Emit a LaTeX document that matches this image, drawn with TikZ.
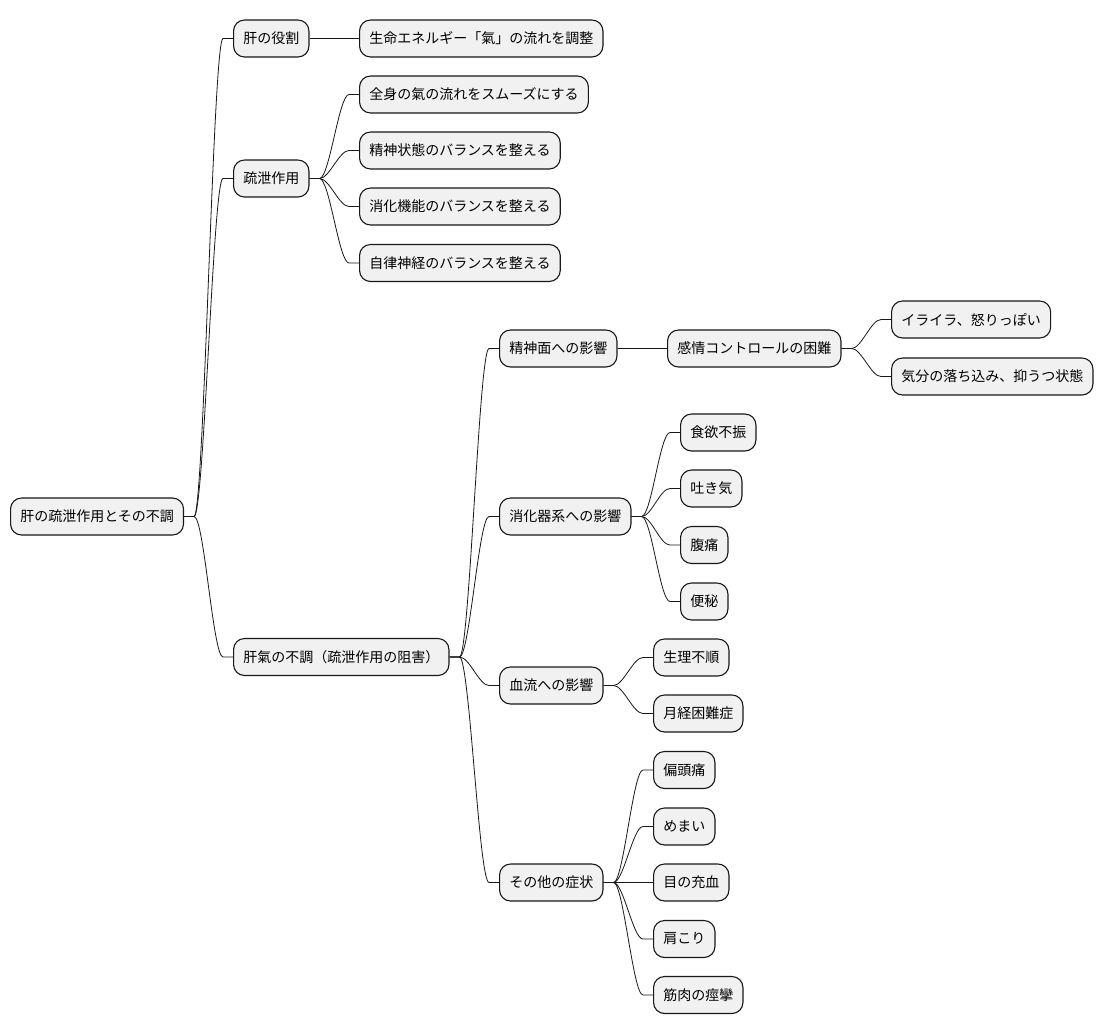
\documentclass[tikz,border=0pt]{standalone}
\usepackage{fontspec}
\setmainfont{Noto Sans CJK JP}
\definecolor{boxgray}{HTML}{F1F1F1}
\definecolor{boxline}{HTML}{181818}
\newcommand\mmconn[2]{\draw[mmline] (#1.east) -- ++(10,0) .. controls +(10,0) and +(-10,0) .. ([xshift=-10pt]#2.west) -- (#2.west);}
\begin{document}
\begin{tikzpicture}[x=1pt,y=-1pt,
  box/.style={draw=boxline, line width=1.1pt, fill=boxgray, rounded corners=11pt,
    minimum height=37pt, inner xsep=9.7pt, inner ysep=0pt, anchor=west,
    font=\fontsize{14pt}{16pt}\selectfont, text=black},
  mmline/.style={draw=boxline, line width=0.8pt}]
\useasboundingbox (0,0) rectangle (1104,1034);
\fill[white] (0,0) rectangle (1104,1034);

\node[box] (root) at (10,516.5) {肝の疏泄作用とその不調};

\node[box] (n1) at (233,38.5) {肝の役割};
\node[box] (n1a) at (359,38.5) {生命エネルギー「氣」の流れを調整};

\node[box] (n2) at (233,178.5) {疏泄作用};
\node[box] (n2a) at (359,94.5) {全身の氣の流れをスムーズにする};
\node[box] (n2b) at (359,150.5) {精神状態のバランスを整える};
\node[box] (n2c) at (359,206.5) {消化機能のバランスを整える};
\node[box] (n2d) at (359,263) {自律神経のバランスを整える};

\node[box] (n3) at (233,657) {肝氣の不調（疏泄作用の阻害）};

\node[box] (n3a) at (499,348.5) {精神面への影響};
\node[box] (n3a1) at (667,348.5) {感情コントロールの困難};
\node[box] (n3a1a) at (891,319.5) {イライラ、怒りっぽい};
\node[box] (n3a1b) at (891,376.5) {気分の落ち込み、抑うつ状態};

\node[box] (n3b) at (499,516.5) {消化器系への影響};
\node[box] (n3b1) at (680,432.5) {食欲不振};
\node[box] (n3b2) at (680,488.5) {吐き気};
\node[box] (n3b3) at (680,545) {腹痛};
\node[box] (n3b4) at (680,601.5) {便秘};

\node[box] (n3c) at (499,685.5) {血流への影響};
\node[box] (n3c1) at (653,657.5) {生理不順};
\node[box] (n3c2) at (653,713.5) {月経困難症};

\node[box] (n3d) at (499,882.5) {その他の症状};
\node[box] (n3d1) at (653,770) {偏頭痛};
\node[box] (n3d2) at (653,826.5) {めまい};
\node[box] (n3d3) at (653,882.5) {目の充血};
\node[box] (n3d4) at (653,939) {肩こり};
\node[box] (n3d5) at (653,995) {筋肉の痙攣};

\mmconn{root}{n1}
\mmconn{root}{n2}
\mmconn{root}{n3}
\mmconn{n1}{n1a}
\mmconn{n2}{n2a}
\mmconn{n2}{n2b}
\mmconn{n2}{n2c}
\mmconn{n2}{n2d}
\mmconn{n3}{n3a}
\mmconn{n3}{n3b}
\mmconn{n3}{n3c}
\mmconn{n3}{n3d}
\mmconn{n3a}{n3a1}
\mmconn{n3a1}{n3a1a}
\mmconn{n3a1}{n3a1b}
\mmconn{n3b}{n3b1}
\mmconn{n3b}{n3b2}
\mmconn{n3b}{n3b3}
\mmconn{n3b}{n3b4}
\mmconn{n3c}{n3c1}
\mmconn{n3c}{n3c2}
\mmconn{n3d}{n3d1}
\mmconn{n3d}{n3d2}
\mmconn{n3d}{n3d3}
\mmconn{n3d}{n3d4}
\mmconn{n3d}{n3d5}
\end{tikzpicture}
\end{document}
